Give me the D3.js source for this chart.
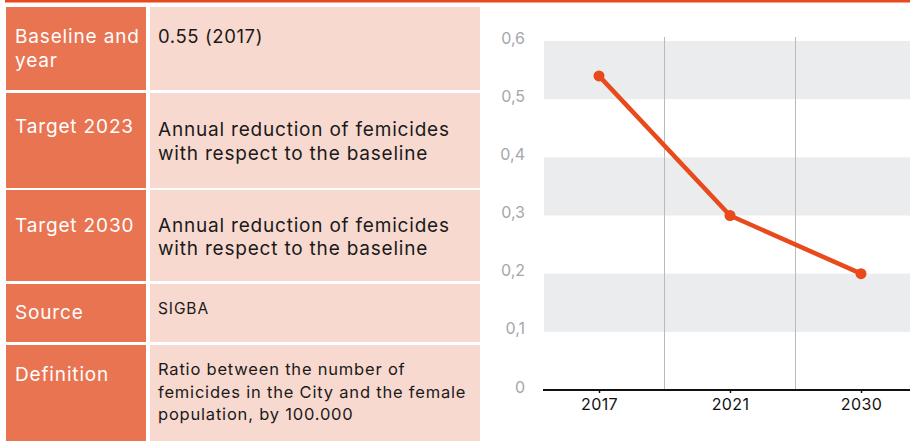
<!DOCTYPE html>
<html>
<head>
<meta charset="utf-8">
<script src="https://cdn.jsdelivr.net/npm/d3@7"></script>
<style>
  html, body { margin: 0; padding: 0; background: #fff; }
  svg { display: block; font-family: Inter, "Noto Sans", sans-serif; }
</style>
</head>
<body>
<svg id="chart" width="910" height="441"></svg>
<script>
// ── Data ──────────────────────────────────────────────────────────────────
const rowLabels = [['Baseline and', 'year'], ['Target 2023'], ['Target 2030'], ['Source'], ['Definition']];
const rowValues = [
  ['0.55 (2017)'],
  ['Annual reduction of femicides', 'with respect to the baseline'],
  ['Annual reduction of femicides', 'with respect to the baseline'],
  ['SIGBA'],
  ['Ratio between the number of', 'femicides in the City and the female', 'population, by 100.000'],
];
const years  = ['2017', '2021', '2030'];
const values = [0.54, 0.30, 0.20];
const yTicks = [0, 0.1, 0.2, 0.3, 0.4, 0.5, 0.6];

// ── Layout ────────────────────────────────────────────────────────────────
const ORANGE = '#e84a1b';
const LABEL_BG = '#e97452';
const VALUE_BG = '#f8d9cf';
const rowTop    = [7, 93, 190, 284, 345];
const rowBottom = [90, 188, 281, 342, 441];
const labelBase = [43, 133, 232, 319, 381];
const valueBase = [43, 136, 232, 314, 375];
const valueSize = [18.5, 19, 19, 15.5, 16.5];
const valueLS   = [0.6, 0.8, 0.8, 0.9, 0.8];
const valueLH   = [24, 24, 23, 22, 22.5];

const svg = d3.select('#chart');

// top rule
svg.append('rect').attr('x', 5).attr('y', 0).attr('width', 905).attr('height', 2.5).attr('fill', ORANGE);

// ── Table ────────────────────────────────────────────────────────────────
const rows = svg.append('g').selectAll('g')
  .data(rowLabels.map((l, i) => ({ label: l, value: rowValues[i], i })))
  .join('g');

rows.append('rect')
  .attr('x', 6).attr('width', 140)
  .attr('y', d => rowTop[d.i]).attr('height', d => rowBottom[d.i] - rowTop[d.i])
  .attr('fill', LABEL_BG);

rows.append('rect')
  .attr('x', 150).attr('width', 330)
  .attr('y', d => rowTop[d.i]).attr('height', d => rowBottom[d.i] - rowTop[d.i])
  .attr('fill', VALUE_BG);

rows.append('text')
  .attr('fill', '#fff').attr('font-size', 19).attr('letter-spacing', 0.85)
  .selectAll('tspan').data(d => d.label.map(t => ({ t, i: d.i })))
  .join('tspan')
  .attr('x', 15)
  .attr('y', (d, j) => labelBase[d.i] + j * 24)
  .text(d => d.t);

rows.append('text')
  .attr('fill', '#1a1a1a')
  .attr('font-size', d => valueSize[d.i])
  .attr('letter-spacing', d => valueLS[d.i])
  .selectAll('tspan').data(d => d.value.map(t => ({ t, i: d.i })))
  .join('tspan')
  .attr('x', 158)
  .attr('y', (d, j) => valueBase[d.i] + j * valueLH[d.i])
  .text(d => d.t);

// ── Line chart ───────────────────────────────────────────────────────────
const plotL = 544, plotR = 910;
const y = d3.scaleLinear().domain([0, 0.6]).range([390, 41]);
const x = d3.scalePoint().domain(years).range([599, 861]);

const chart = svg.append('g');

// alternating bands
const bandStarts = yTicks.filter((t, i) => i % 2 === 1);
chart.append('g').selectAll('rect')
  .data(bandStarts).join('rect')
  .attr('x', plotL).attr('width', plotR - plotL)
  .attr('y', d => y(d + 0.1)).attr('height', d => y(d) - y(d + 0.1))
  .attr('fill', '#ebecee');

// vertical separators between categories
const seps = d3.pairs(years).map(([a, b]) => (x(a) + x(b)) / 2);
chart.append('g').selectAll('line')
  .data(seps).join('line')
  .attr('x1', d => d).attr('x2', d => d)
  .attr('y1', 37).attr('y2', 390)
  .attr('stroke', '#b9babe').attr('stroke-width', 1);

// y labels
chart.append('g').selectAll('text')
  .data(yTicks).join('text')
  .attr('x', 525).attr('y', d => y(d) - 3)
  .attr('dy', '0.35em')
  .attr('text-anchor', 'end')
  .attr('font-size', 16)
  .attr('fill', '#a6a6ab')
  .text(d => d === 0 ? '0' : d3.format('.1f')(d).replace('.', ','));

// x axis
const xAxis = chart.append('g')
  .attr('transform', `translate(0,${y(0)})`)
  .call(d3.axisBottom(x).tickSize(3).tickPadding(6));
xAxis.select('.domain').remove();
xAxis.selectAll('.tick line').attr('stroke', '#111').attr('stroke-width', 1.5);
xAxis.selectAll('.tick text')
  .attr('font-family', 'Inter, "Noto Sans", sans-serif')
  .attr('font-size', 16).attr('letter-spacing', 0.4).attr('fill', '#111');
chart.append('line')
  .attr('x1', plotL - 1).attr('x2', plotR)
  .attr('y1', y(0)).attr('y2', y(0))
  .attr('stroke', '#111').attr('stroke-width', 2);

// series
const pts = years.map((yr, i) => [x(yr), y(values[i])]);
chart.append('path')
  .attr('d', d3.line()(pts))
  .attr('fill', 'none')
  .attr('stroke', ORANGE)
  .attr('stroke-width', 4.5)
  .attr('stroke-linejoin', 'round');

chart.append('g').selectAll('circle')
  .data(pts).join('circle')
  .attr('cx', d => d[0]).attr('cy', d => d[1])
  .attr('r', 5.5)
  .attr('fill', ORANGE);
</script>
</body>
</html>
